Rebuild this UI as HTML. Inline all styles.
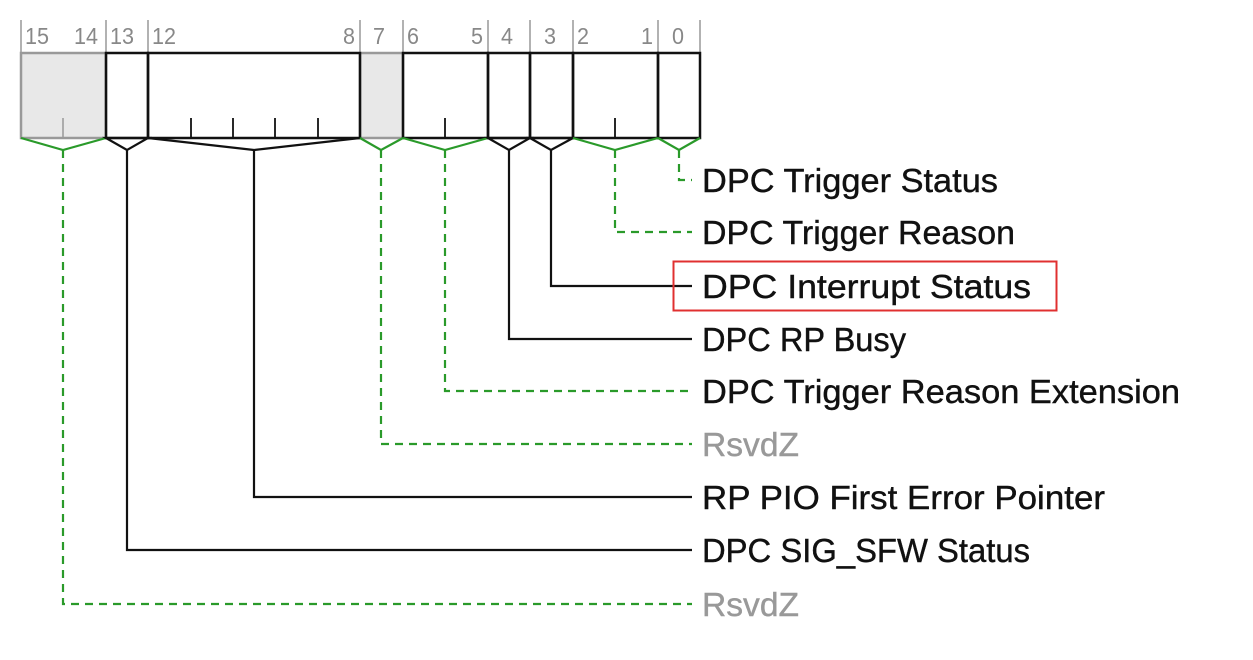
<!DOCTYPE html>
<html><head><meta charset="utf-8"><style>
html,body{margin:0;padding:0;background:#fff;}
svg{display:block}
text{font-family:"Liberation Sans",sans-serif;}
</style></head><body>
<svg width="1253" height="660" viewBox="0 0 1253 660" xmlns="http://www.w3.org/2000/svg">
<g stroke="#999" stroke-width="1.5">
<line x1="21" y1="20" x2="21" y2="52"/><line x1="106" y1="20" x2="106" y2="52"/>
<line x1="148" y1="20" x2="148" y2="52"/><line x1="360" y1="20" x2="360" y2="52"/>
<line x1="403" y1="20" x2="403" y2="52"/><line x1="488" y1="20" x2="488" y2="52"/>
<line x1="530" y1="20" x2="530" y2="52"/><line x1="573" y1="20" x2="573" y2="52"/>
<line x1="658" y1="20" x2="658" y2="52"/><line x1="700" y1="20" x2="700" y2="52"/>
</g>
<g fill="#888" font-size="23">
<text x="25" y="44" textLength="24" lengthAdjust="spacingAndGlyphs">15</text>
<text x="74" y="44" textLength="24" lengthAdjust="spacingAndGlyphs">14</text>
<text x="110" y="44" textLength="24" lengthAdjust="spacingAndGlyphs">13</text>
<text x="152" y="44" textLength="24" lengthAdjust="spacingAndGlyphs">12</text>
<text x="343" y="44" textLength="12" lengthAdjust="spacingAndGlyphs">8</text>
<text x="373" y="44" textLength="12" lengthAdjust="spacingAndGlyphs">7</text>
<text x="407" y="44" textLength="12" lengthAdjust="spacingAndGlyphs">6</text>
<text x="471" y="44" textLength="12" lengthAdjust="spacingAndGlyphs">5</text>
<text x="501" y="44" textLength="12" lengthAdjust="spacingAndGlyphs">4</text>
<text x="544" y="44" textLength="12" lengthAdjust="spacingAndGlyphs">3</text>
<text x="577" y="44" textLength="12" lengthAdjust="spacingAndGlyphs">2</text>
<text x="641" y="44" textLength="12" lengthAdjust="spacingAndGlyphs">1</text>
<text x="672" y="44" textLength="12" lengthAdjust="spacingAndGlyphs">0</text>
</g>
<rect x="21" y="53" width="85" height="85" fill="#e8e8e8" stroke="#999" stroke-width="2.5"/>
<rect x="360" y="53" width="43" height="85" fill="#e8e8e8" stroke="#999" stroke-width="2.5"/>
<g stroke="#999" stroke-width="1.5"><line x1="63" y1="118" x2="63" y2="138"/></g>
<g fill="none" stroke="#111" stroke-width="2.5">
<rect x="106" y="53" width="42" height="85"/>
<rect x="148" y="53" width="212" height="85"/>
<rect x="403" y="53" width="85" height="85"/>
<rect x="488" y="53" width="42" height="85"/>
<rect x="530" y="53" width="43" height="85"/>
<rect x="573" y="53" width="85" height="85"/>
<rect x="658" y="53" width="42" height="85"/>
</g>
<g stroke="#111" stroke-width="1.8">
<line x1="191" y1="118" x2="191" y2="138"/><line x1="233" y1="118" x2="233" y2="138"/>
<line x1="275" y1="118" x2="275" y2="138"/><line x1="318" y1="118" x2="318" y2="138"/>
<line x1="445" y1="118" x2="445" y2="138"/><line x1="615" y1="118" x2="615" y2="138"/>
</g>
<g fill="none" stroke-width="2.2">
<polyline points="21,138 63,150 106,138" stroke="#2a9a2a"/>
<polygon points="106,138 127,150 148,138" stroke="#111"/>
<polyline points="148,138 254,150 360,138" stroke="#111"/>
<polyline points="360,138 381,150 403,138" stroke="#2a9a2a"/>
<polyline points="403,138 445,150 488,138" stroke="#2a9a2a"/>
<polygon points="488,138 509,150 530,138" stroke="#111"/>
<polygon points="530,138 551,150 573,138" stroke="#111"/>
<polyline points="573,138 615,150 658,138" stroke="#2a9a2a"/>
<polyline points="658,138 679,150 700,138" stroke="#2a9a2a"/>
</g>
<g fill="none" stroke="#2a9a2a" stroke-width="2.2" stroke-dasharray="8,6">
<polyline points="679,150 679,180 692,180"/>
<polyline points="615,150 615,232 692,232"/>
<polyline points="445,150 445,391 692,391"/>
<polyline points="381,150 381,444 692,444"/>
<polyline points="63,150 63,604 692,604"/>
</g>
<g fill="none" stroke="#111" stroke-width="2.2">
<polyline points="551,150 551,286 692,286"/>
<polyline points="509,150 509,339 692,339"/>
<polyline points="254,150 254,497 692,497"/>
<polyline points="127,150 127,550 692,550"/>
</g>
<rect x="673.5" y="261.5" width="383" height="49" fill="none" stroke="#e03030" stroke-width="2"/>
<g font-size="33" fill="#111" stroke="#111" stroke-width="0.4">
<text x="702" y="192" textLength="296" lengthAdjust="spacingAndGlyphs">DPC Trigger Status</text>
<text x="702" y="244" textLength="313" lengthAdjust="spacingAndGlyphs">DPC Trigger Reason</text>
<text x="702" y="298" textLength="329" lengthAdjust="spacingAndGlyphs">DPC Interrupt Status</text>
<text x="702" y="351" textLength="204" lengthAdjust="spacingAndGlyphs">DPC RP Busy</text>
<text x="702" y="403" textLength="478" lengthAdjust="spacingAndGlyphs">DPC Trigger Reason Extension</text>
<text x="702" y="456" textLength="97" lengthAdjust="spacingAndGlyphs" fill="#999" stroke="#999">RsvdZ</text>
<text x="702" y="509" textLength="403" lengthAdjust="spacingAndGlyphs">RP PIO First Error Pointer</text>
<text x="702" y="562" textLength="328" lengthAdjust="spacingAndGlyphs">DPC SIG_SFW Status</text>
<text x="702" y="616" textLength="97" lengthAdjust="spacingAndGlyphs" fill="#999" stroke="#999">RsvdZ</text>
</g>
</svg>
</body></html>
